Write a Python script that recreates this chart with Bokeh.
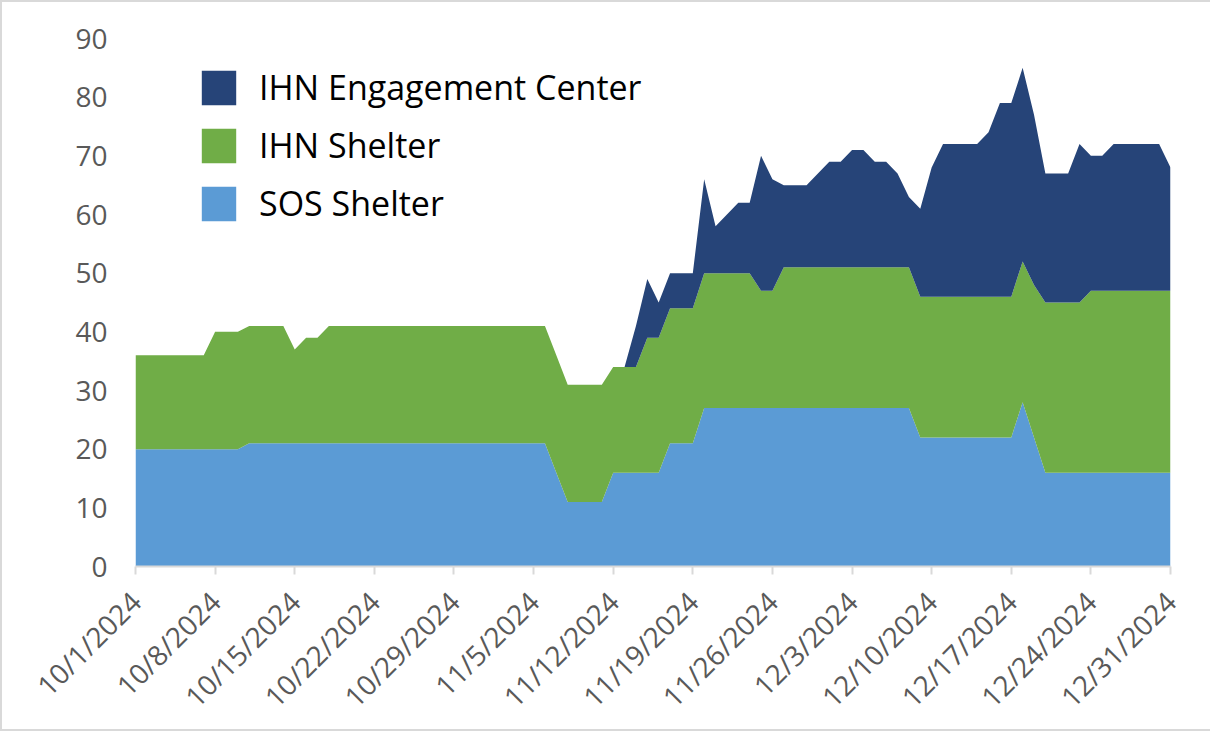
import math
import pandas as pd
from bokeh.plotting import figure
from bokeh.models import (ColumnDataSource, Range1d, FixedTicker, CustomJSTickFormatter,
                          Legend, LegendItem)
from bokeh.embed import file_html
from bokeh.resources import INLINE

# ---- data (daily, 10/1/2024 .. 12/31/2024) ----
dates = pd.date_range("2024-10-01", "2024-12-31", freq="D")

sos_shelter = [
    20, 20, 20, 20, 20, 20, 20,
    20, 20, 20, 21, 21, 21, 21,
    21, 21, 21, 21, 21, 21, 21,
    21, 21, 21, 21, 21, 21, 21,
    21, 21, 21, 21, 21, 21, 21,
    21, 21, 16, 11, 11, 11, 11,
    16, 16, 16, 16, 16, 21, 21,
    21, 27, 27, 27, 27, 27, 27,
    27, 27, 27, 27, 27, 27, 27,
    27, 27, 27, 27, 27, 27, 22,
    22, 22, 22, 22, 22, 22, 22,
    22, 28, 22, 16, 16, 16, 16,
    16, 16, 16, 16, 16, 16, 16,
    16,
]

ihn_shelter = [
    16, 16, 16, 16, 16, 16, 16,
    20, 20, 20, 20, 20, 20, 20,
    16, 18, 18, 20, 20, 20, 20,
    20, 20, 20, 20, 20, 20, 20,
    20, 20, 20, 20, 20, 20, 20,
    20, 20, 20, 20, 20, 20, 20,
    18, 18, 18, 23, 23, 23, 23,
    23, 23, 23, 23, 23, 23, 20,
    20, 24, 24, 24, 24, 24, 24,
    24, 24, 24, 24, 24, 24, 24,
    24, 24, 24, 24, 24, 24, 24,
    24, 24, 26, 29, 29, 29, 29,
    31, 31, 31, 31, 31, 31, 31,
    31,
]

ihn_engagement = [
    0, 0, 0, 0, 0, 0, 0,
    0, 0, 0, 0, 0, 0, 0,
    0, 0, 0, 0, 0, 0, 0,
    0, 0, 0, 0, 0, 0, 0,
    0, 0, 0, 0, 0, 0, 0,
    0, 0, 0, 0, 0, 0, 0,
    0, 0, 7, 10, 6, 6, 6,
    6, 16, 8, 10, 12, 12, 23,
    19, 14, 14, 14, 16, 18, 18,
    20, 20, 18, 18, 16, 12, 15,
    22, 26, 26, 26, 26, 28, 33,
    33, 33, 29, 22, 22, 22, 27,
    23, 23, 25, 25, 25, 25, 25,
    21,
]

series_names = ["SOS Shelter", "IHN Shelter", "IHN Engagement Center"]
series_colors = ["#5B9BD5", "#70AD47", "#264478"]
y_ticks = [0, 10, 20, 30, 40, 50, 60, 70, 80, 90]
tick_dates = pd.date_range("2024-10-01", "2024-12-31", freq="7D")

source = ColumnDataSource(dict(date=dates, sos=sos_shelter, ihn=ihn_shelter, eng=ihn_engagement))

FONT = "Open Sans"
LABEL_COLOR = "#595959"

p = figure(width=1210, height=731, x_axis_type="datetime",
           x_range=Range1d(dates[0], dates[-1]), y_range=Range1d(0, 90),
           output_backend="svg", toolbar_location=None,
           min_border_left=133, min_border_right=42, min_border_top=36, min_border_bottom=167)
p.styles = {"border-left": "2px solid #d9d9d9", "border-top": "2px solid #d9d9d9",
            "border-bottom": "2px solid #d9d9d9"}

renderers = p.varea_stack(stackers=["sos", "ihn", "eng"], x="date", color=series_colors,
                          source=source)

p.xgrid.visible = False
p.ygrid.visible = False
p.outline_line_color = None

# y axis
p.yaxis.ticker = FixedTicker(ticks=y_ticks)
p.yaxis.axis_line_color = None
p.yaxis.major_tick_line_color = None
p.yaxis.minor_tick_line_color = None
p.yaxis.major_tick_out = 0
p.yaxis.major_tick_in = 0
p.yaxis.major_label_standoff = 28
p.yaxis.major_label_text_font = FONT
p.yaxis.major_label_text_font_size = "28px"
p.yaxis.major_label_text_color = LABEL_COLOR

# x axis
p.xaxis.ticker = FixedTicker(ticks=[d.timestamp() * 1000 for d in tick_dates])
p.xaxis.formatter = CustomJSTickFormatter(code="""
const d = new Date(tick);
return (d.getUTCMonth() + 1) + "/" + d.getUTCDate() + "/" + d.getUTCFullYear();
""")
p.xaxis.axis_line_color = "#d9d9d9"
p.xaxis.axis_line_width = 2
p.xaxis.major_tick_line_color = "#d9d9d9"
p.xaxis.major_tick_line_width = 2
p.xaxis.major_tick_out = 8
p.xaxis.major_tick_in = 0
p.xaxis.minor_tick_line_color = None
p.xaxis.major_label_orientation = math.pi / 4
p.xaxis.major_label_standoff = 22
p.xaxis.major_label_text_font = FONT
p.xaxis.major_label_text_font_size = "28px"
p.xaxis.major_label_text_color = LABEL_COLOR

legend = Legend(items=[
    LegendItem(label=series_names[2], renderers=[renderers[2]]),
    LegendItem(label=series_names[1], renderers=[renderers[1]]),
    LegendItem(label=series_names[0], renderers=[renderers[0]]),
], location=(62, 340))
legend.padding = 0
legend.margin = 0
legend.spacing = 12
legend.glyph_width = 43
legend.glyph_height = 43
legend.label_height = 43
legend.label_standoff = 19
legend.label_text_font = FONT
legend.label_text_font_size = "34px"
legend.label_text_color = "#000000"
legend.border_line_color = None
legend.background_fill_alpha = 0
p.add_layout(legend)

open("out.html", "w").write(file_html(p, INLINE))
